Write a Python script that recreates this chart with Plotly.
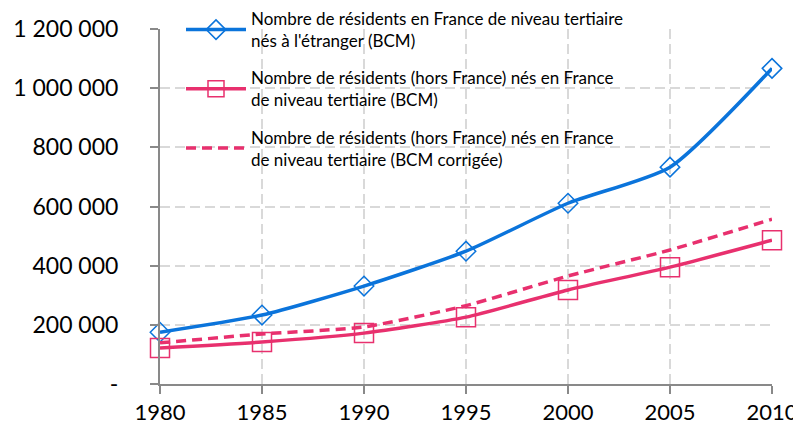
import plotly.graph_objects as go

years = [1980, 1985, 1990, 1995, 2000, 2005, 2010]
nes_etranger = [175000, 233000, 331000, 449000, 611000, 733000, 1067000]
nes_france_bcm = [122000, 142000, 172000, 226000, 318000, 395000, 486000]
nes_france_corr = [139000, 169000, 193000, 265000, 365000, 453000, 557000]

y_tickvals = [0, 200000, 400000, 600000, 800000, 1000000, 1200000]
y_ticktext = ["-", "200 000", "400 000", "600 000", "800 000", "1 000 000", "1 200 000"]

names = [
    "Nombre de résidents en France de niveau tertiaire<br>nés à l'étranger (BCM)",
    "Nombre de résidents (hors France) nés en France<br>de niveau tertiaire (BCM)",
    "Nombre de résidents (hors France) nés en France<br>de niveau tertiaire (BCM corrigée)",
]

blue = "#0b74db"
pink = "#e8306e"

fig = go.Figure()
fig.add_trace(go.Scatter(
    x=years, y=nes_etranger, name=names[0], mode="lines+markers",
    line=dict(color=blue, width=3.5, shape="spline", smoothing=0.6),
    marker=dict(symbol="diamond-open", size=15, color=blue, line=dict(width=1.5, color=blue)),
    cliponaxis=False, legendgroup="a",
))
fig.add_trace(go.Scatter(
    x=years, y=nes_france_bcm, name=names[1], mode="lines+markers",
    line=dict(color=pink, width=3.5, shape="spline", smoothing=0.6),
    marker=dict(symbol="square-open", size=19, color=pink, line=dict(width=1.5, color=pink)),
    cliponaxis=False, legendgroup="b",
))
fig.add_trace(go.Scatter(
    x=years, y=nes_france_corr, name=names[2], mode="lines",
    line=dict(color=pink, width=3.5, dash="10px,6px", shape="spline", smoothing=0.6),
    cliponaxis=False, legendgroup="c",
))

# page body has an 8px margin: figure is placed at (8, 8)
fig.update_layout(
    width=793, height=419,
    margin=dict(l=152, r=29, t=21, b=43, autoexpand=False),
    paper_bgcolor="white", plot_bgcolor="white",
    font=dict(family="Lato, 'Open Sans', sans-serif", color="#000"),
    showlegend=True,
    legend=dict(
        x=(181 - 160) / 612, y=1 + 28 / 355, xanchor="left", yanchor="top",
        bgcolor="rgba(255,255,255,0)", font=dict(size=17),
        tracegroupgap=12, itemwidth=60,
    ),
    xaxis=dict(
        range=[1980, 2010], tickvals=years, ticks="outside", ticklen=8,
        tickcolor="#898989", tickwidth=2,
        showline=True, linecolor="#898989", linewidth=2,
        showgrid=True, gridcolor="#d9d9d9", gridwidth=2, griddash="10px,5px",
        tickfont=dict(size=22), zeroline=False, automargin=False,
    ),
    yaxis=dict(
        range=[0, 1200000], tickvals=y_tickvals, ticktext=y_ticktext,
        ticks="outside", ticklen=8, tickcolor="#898989", tickwidth=2,
        showline=True, linecolor="#898989", linewidth=2,
        showgrid=True, gridcolor="#d9d9d9", gridwidth=2, griddash="10px,5px",
        tickfont=dict(size=23), zeroline=False, automargin=False,
        ticklabelstandoff=27,
    ),
)

fig.write_html("out.html")
